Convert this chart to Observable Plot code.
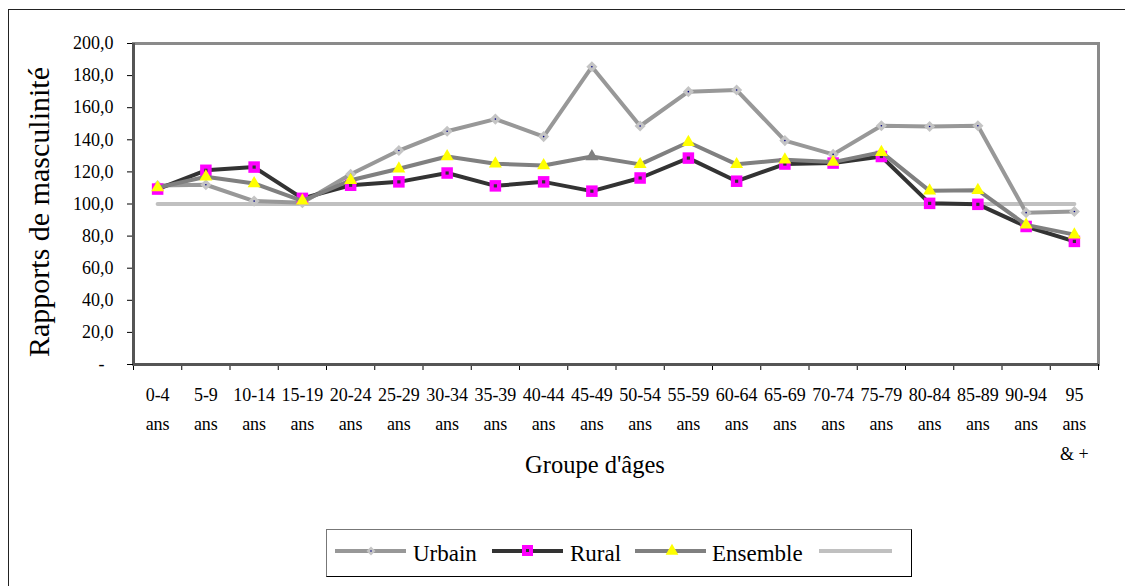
<!DOCTYPE html>
<html>
<head>
<meta charset="utf-8">
<script src="https://cdn.jsdelivr.net/npm/d3@7"></script>
<script src="https://cdn.jsdelivr.net/npm/@observablehq/plot@0.6"></script>
<style>
  html, body { margin: 0; padding: 0; background: #fff; }
  body { width: 1125px; height: 586px; overflow: hidden; position: relative; font-family: "Liberation Serif", "Times New Roman", serif; }
  #chart { position: absolute; left: 0; top: 0; }
  #outer { position: absolute; left: 8px; top: 9px; width: 1300px; height: 800px; border: 1px solid #222; pointer-events: none; }
  #legend { position: absolute; left: 326px; top: 529px; width: 584px; height: 46px; border: 1px solid #000; border-left-color: #777; border-top-color: #777; background: #fff; }
</style>
</head>
<body>
<div id="outer"></div>
<div id="chart"></div>
<div id="legend"></div>
<script>
// ---- data ----
const ages = ["0-4","5-9","10-14","15-19","20-24","25-29","30-34","35-39","40-44","45-49",
              "50-54","55-59","60-64","65-69","70-74","75-79","80-84","85-89","90-94","95"];
const ageLabels = ["0-4\nans","5-9\nans","10-14\nans","15-19\nans","20-24\nans","25-29\nans","30-34\nans",
                   "35-39\nans","40-44\nans","45-49\nans","50-54\nans","55-59\nans","60-64\nans","65-69\nans",
                   "70-74\nans","75-79\nans","80-84\nans","85-89\nans","90-94\nans","95\nans\n& +"];
const urbain   = [111.5,112.0,101.8,100.8,118.5,133.3,145.3,152.9,142.0,185.5,148.6,170.0,171.0,139.5,130.9,148.8,148.3,148.8,94.6,95.3];
const rural    = [109.3,121.0,123.0,103.5,111.7,113.8,119.3,111.3,113.8,108.0,116.2,128.6,114.2,124.9,125.5,129.6,100.4,99.8,86.0,76.7];
const ensemble = [110.2,117.0,112.8,102.0,114.8,122.0,129.6,125.1,124.0,129.6,124.7,138.5,124.7,127.6,126.1,132.3,108.2,108.6,87.0,80.9];
const reference = [100,100,100,100,100,100,100,100,100,100,100,100,100,100,100,100,100,100,100,100];
const yTicks = [0,20,40,60,80,100,120,140,160,180,200];
const seriesNames = ["Urbain","Rural","Ensemble"];
const xTitle = "Groupe d'âges";
const yTitle = "Rapports de masculinité";

const data = ages.map((a, i) => ({
  i, age: a, pos: i + 0.5,
  urbain: urbain[i], rural: rural[i], ensemble: ensemble[i], reference: reference[i]
}));

const C = {
  urbainLine: "#989898", urbainMark: "#c4c4c4",
  ruralLine: "#333333", ruralMark: "#ff00ff",
  ensLine: "#808080", ensMark: "#ffff00",
  refLine: "#c0c0c0"
};

const FONT = "'Liberation Serif', 'Times New Roman', serif";
const boundaries = d3.range(ages.length + 1);
const centers = ages.map((_, i) => i + 0.5);

const chart = Plot.plot({
  width: 1125,
  height: 520,
  marginTop: 43,
  marginLeft: 133,
  marginRight: 27,
  marginBottom: 156,
  x: { domain: [0, ages.length], label: null },
  y: { domain: [0, 200], label: null },
  style: { fontFamily: FONT, fontSize: "18px", color: "#000", background: "transparent", overflow: "visible" },
  marks: [
    Plot.frame({ fill: "#fff", stroke: "#8a8a8a", strokeWidth: 3 }),
    // x boundary ticks
    Plot.axisX({ ticks: boundaries, tickSize: 6, tickFormat: () => "", stroke: "#000", label: null }),
    // x labels at centers
    Plot.axisX({ ticks: centers, tickSize: 0, tickPadding: 16, lineHeight: 1.62, fontSize: 18,
                 tickFormat: (d) => ageLabels[Math.floor(d)], label: null }),
    Plot.axisY({ ticks: yTicks, tickSize: 6, tickPadding: 14, fontSize: 18, label: null,
                 tickFormat: (d) => d === 0 ? "-\u00a0\u00a0" : d.toFixed(1).replace(".", ",") }),
    Plot.ruleX([0], { stroke: "#555", strokeWidth: 3 }),
    Plot.ruleY([0], { stroke: "#555", strokeWidth: 3 }),
    // reference line
    Plot.line(data, { x: "pos", y: "reference", stroke: C.refLine, strokeWidth: 4 }),
    // Urbain
    Plot.line(data, { x: "pos", y: "urbain", stroke: C.urbainLine, strokeWidth: 4, strokeLinejoin: "round" }),
    Plot.dot(data, { x: "pos", y: "urbain", symbol: "diamond2", r: 5, fill: C.urbainMark, stroke: "none" }),
    Plot.dot(data, { x: "pos", y: "urbain", r: 0.8, fill: "#000080", stroke: "none" }),
    // Rural
    Plot.line(data, { x: "pos", y: "rural", stroke: C.ruralLine, strokeWidth: 4, strokeLinejoin: "round" }),
    Plot.dot(data, { x: "pos", y: "rural", symbol: "square", r: 6.5, fill: C.ruralMark, stroke: "none" }),
    Plot.dot(data, { x: "pos", y: "rural", symbol: "square", r: 1.8, fill: "#333", stroke: "none" }),
    // Ensemble
    Plot.line(data, { x: "pos", y: "ensemble", stroke: C.ensLine, strokeWidth: 4, strokeLinejoin: "round" }),
    Plot.dot(data, { x: "pos", y: "ensemble", symbol: "triangle", r: 4.8,
                     fill: (d) => d.age === "45-49" ? C.ensLine : C.ensMark, stroke: "none" }),
    // x axis title
    Plot.text([xTitle], { frameAnchor: "bottom", dx: -21, dy: 108, fontSize: 24.5, fill: "#000" })
  ]
});
document.getElementById("chart").appendChild(chart);

// y axis title (rotated)
d3.select(chart).append("text")
  .attr("transform", "translate(49,212) rotate(-90)")
  .attr("text-anchor", "middle")
  .style("font-family", FONT)
  .style("font-size", "30px")
  .attr("fill", "#000")
  .text(yTitle);

// ---- legend ----
const L = d3.select("#legend").append("svg").attr("width", 584).attr("height", 46)
  .style("font-family", FONT).style("font-size", "23px");
const cy = 21;
function sample(x0, x1, color) {
  L.append("line").attr("x1", x0).attr("x2", x1).attr("y1", cy).attr("y2", cy)
    .attr("stroke", color).attr("stroke-width", 4);
}
// Urbain
sample(8, 79, C.urbainLine);
L.append("path").attr("d", d3.symbol(d3.symbolSquare, 40)()).attr("transform", `translate(44,${cy}) rotate(45)`).attr("fill", C.urbainMark);
L.append("circle").attr("cx", 44).attr("cy", cy).attr("r", 0.8).attr("fill", "#000080");
L.append("text").attr("x", 86).attr("y", 31).text(seriesNames[0]);
// Rural
sample(165, 236, C.ruralLine);
L.append("rect").attr("x", 195).attr("y", cy - 6).attr("width", 11).attr("height", 11).attr("fill", C.ruralMark);
L.append("rect").attr("x", 199).attr("y", cy - 2).attr("width", 3).attr("height", 3).attr("fill", "#333");
L.append("text").attr("x", 243).attr("y", 31).text(seriesNames[1]);
// Ensemble
sample(308, 379, C.ensLine);
L.append("path").attr("d", d3.symbol(d3.symbolTriangle, 70)()).attr("transform", `translate(345,${cy})`).attr("fill", C.ensMark);
L.append("text").attr("x", 385).attr("y", 31).text(seriesNames[2]);
// reference
sample(492, 565, C.refLine);
</script>
</body>
</html>
